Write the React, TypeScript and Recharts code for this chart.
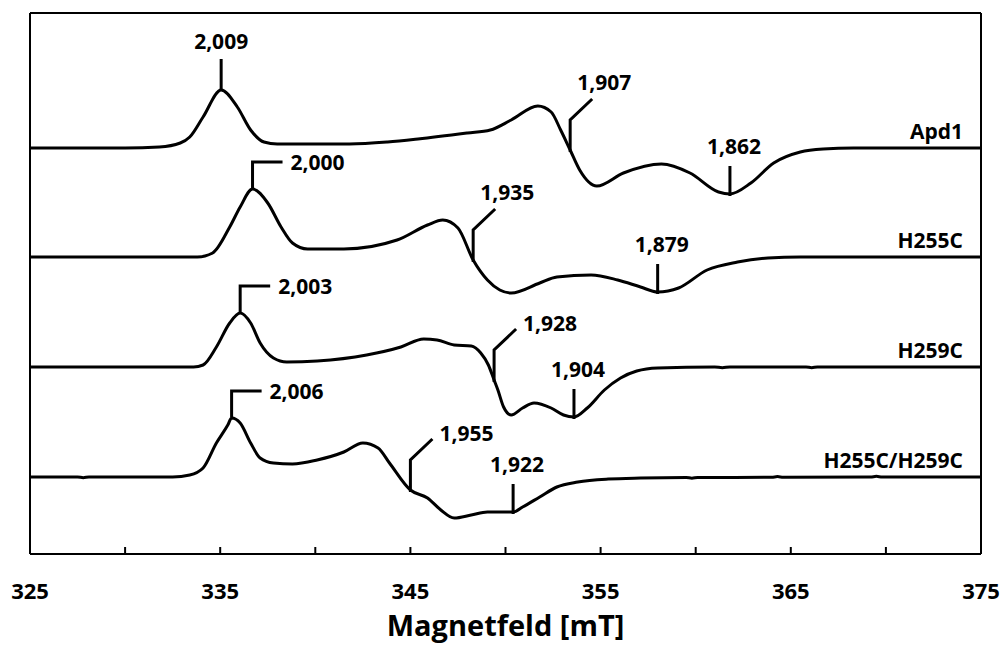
import React from 'react';
import { LineChart, Line, XAxis, YAxis, ReferenceLine, ReferenceDot } from 'recharts';

const FONT = '"Open Sans", "Liberation Sans", sans-serif';

// EPR spectra: field in mT, signal (arbitrary units)
const apd1Field = [325, 330, 331.8, 332.9, 333.4, 334.1, 335.05, 335.9, 336.6, 337.3, 338, 340, 341.8, 343.8, 345.4, 348, 349.2, 350.3, 351.7, 352.4, 352.9, 353.4, 353.9, 354.8, 356.2, 358.2, 359.7, 361.2, 361.8, 362.9, 364.1, 365.5, 366.7, 368.3, 375];
const apd1Signal = [0, 0, 1, 5, 11, 31, 58, 41, 18, 6, 4, 4, 4, 6, 9, 15, 18, 28, 42, 36, 18, -2, -22, -38, -25, -16, -25, -44, -46, -35, -15, -4, -1, 0, 0];

const h255cField = [325, 333.8, 334.6, 335.5, 336.05, 336.7, 337.5, 338.2, 338.8, 339.6, 341.5, 344.3, 345.9, 346.7, 347.5, 348.3, 349.05, 349.7, 350.3, 351.8, 352.7, 354.5, 355.9, 357.1, 358, 359.1, 360.6, 362.2, 363.8, 365.5, 375];
const h255cSignal = [0, 0, 4, 30, 50, 68, 54, 30, 14, 8, 8, 17, 32, 37, 29, -3, -23, -33, -36, -26, -20, -18, -23, -30, -35, -31, -13, -5, -1, 0, 0];

const h259cField = [325, 333.6, 334.1, 334.8, 335.5, 336.05, 336.6, 337.1, 337.8, 338.5, 340.1, 342.7, 344.5, 345.7, 346.4, 347.3, 348.2, 348.7, 349.1, 349.4, 349.6, 349.9, 350.3, 350.9, 351.5, 352.4, 353.05, 353.6, 354.3, 355.2, 356.05, 356.9, 358, 361, 361.4, 361.8, 365.8, 366.1, 366.4, 375];
const h259cSignal = [0, 0, 2, 20, 44, 54, 44, 24, 9, 5, 6, 12, 20, 28, 27, 22, 21, 14, 2, -13, -23, -40, -48, -41, -36, -41, -48, -50, -41, -23, -11, -4, -1, 0, -0.7, 0, 0, -0.7, 0, 0];

const doubleField = [325, 327.5, 327.8, 328.1, 332.5, 333.4, 334.1, 334.8, 335.4, 335.6, 336.05, 336.6, 337.1, 337.8, 338.8, 340.1, 341.5, 342.5, 343.3, 343.9, 345, 345.9, 346.6, 347.3, 348.2, 349.05, 349.7, 350.4, 350.9, 351.8, 352.7, 353.8, 355.4, 357.1, 359.5, 359.8, 360.1, 364, 364.3, 364.6, 369.2, 369.5, 369.8, 375];
const doubleSignal = [0, 0, -0.7, 0, 0, 2, 9, 34, 52, 59, 54, 34, 19, 14, 13, 17, 25, 34, 29, 14, -13, -21, -33, -41, -38, -35, -35, -35, -30, -20, -10, -5, -2, -1, -0.5, -1.2, -0.5, -0.3, 0.4, -0.2, 0, 0.7, 0, 0];

const seriesNames = ['Apd1', 'H255C', 'H259C', 'H255C/H259C'];
const seriesOffsets = [406, 297, 187, 77];
const fields = [apd1Field, h255cField, h259cField, doubleField];
const signals = [apd1Signal, h255cSignal, h259cSignal, doubleSignal];

const xTicks = [325, 330, 335, 340, 345, 350, 355, 360, 365, 370, 375];
const xLabelTicks = [325, 335, 345, 355, 365, 375];

// g-value markers
const gLabels = ['2,009', '1,907', '1,862', '2,000', '1,935', '1,879', '2,003', '1,928', '1,904', '2,006', '1,955', '1,922'];
const gField = [335.05, 353.4, 361.8, 336.7, 348.3, 358, 336.05, 349.4, 353.6, 335.6, 345, 350.4];
const gSeries = [0, 0, 0, 1, 1, 1, 2, 2, 2, 3, 3, 3];
const gKind = ['top', 'diagUp', 'min', 'bracket', 'diagUp', 'min', 'bracket', 'diagRight', 'min', 'bracket', 'diagRight', 'min'];

const spectra = seriesNames.map((name, i) => ({
  name,
  data: fields[i].map((B, j) => ({ B, v: signals[i][j] + seriesOffsets[i] })),
}));

const markers = gLabels.map((g, k) => {
  const s = gSeries[k];
  const j = fields[s].indexOf(gField[k]);
  return { g, B: gField[k], v: signals[s][j] + seriesOffsets[s], kind: gKind[k] };
});

const textStyle = { fontFamily: FONT, fontWeight: 700, fontSize: 21, fill: '#000' };

const markerShape = (kind: string, label: string) => (p: any) => {
  const x = p.cx;
  const y = p.cy;
  let d = '';
  let tx = x;
  let ty = y;
  let anchor: 'start' | 'middle' = 'middle';
  if (kind === 'top') {
    d = `M${x},${y}L${x},${y - 31}`;
    ty = y - 49;
  } else if (kind === 'bracket') {
    d = `M${x},${y - 1}L${x},${y - 27}L${x + 30},${y - 27}`;
    tx = x + 38;
    ty = y - 27;
    anchor = 'start';
  } else if (kind === 'diagUp') {
    d = `M${x},${y + 2}L${x},${y - 30}L${x + 22},${y - 51}`;
    tx = x + 34;
    ty = y - 68;
  } else if (kind === 'diagRight') {
    d = `M${x},${y + 2}L${x},${y - 30}L${x + 22},${y - 51}`;
    tx = x + 29;
    ty = y - 57;
    anchor = 'start';
  } else {
    d = `M${x},${y + 2}L${x},${y - 28}`;
    tx = x + 4;
    ty = y - 48;
  }
  return (
    <g>
      <path d={d} stroke="#000" strokeWidth={3} fill="none" />
      <text x={tx} y={ty} textAnchor={anchor} dominantBaseline="central" style={textStyle}>
        {label}
      </text>
    </g>
  );
};

const nameShape = (label: string) => (p: any) => (
  <text x={p.cx - 18} y={p.cy - 17} textAnchor="end" dominantBaseline="central" style={textStyle}>
    {label}
  </text>
);

const renderTick = (p: any) => {
  const v = p.payload.value;
  return (
    <g>
      <line x1={p.x} y1={p.y} x2={p.x} y2={p.y - 7} stroke="#000" strokeWidth={2} />
      {xLabelTicks.includes(v) && (
        <text x={p.x} y={p.y + 36} textAnchor="middle" dominantBaseline="central" style={{ ...textStyle, fontSize: 22 }}>
          {v}
        </text>
      )}
    </g>
  );
};

const App: React.FC = () => {
  return (
    <div style={{ position: 'absolute', left: 0, top: 0, width: 1001, height: 645, background: '#fff' }}>
      <LineChart width={1001} height={645} margin={{ top: 13, right: 20, left: 30, bottom: 0 }}>
        <XAxis
          type="number"
          dataKey="B"
          domain={[325, 375]}
          ticks={xTicks}
          interval={0}
          height={91}
          tickSize={0}
          tickMargin={0}
          tickLine={false}
          axisLine={{ stroke: '#000', strokeWidth: 2 }}
          tick={renderTick}
          allowDataOverflow
          label={{
            value: 'Magnetfeld [mT]',
            position: 'insideBottom',
            offset: 9,
            style: { fontFamily: FONT, fontWeight: 700, fontSize: 29, fill: '#000' },
          }}
        />
        <YAxis type="number" hide width={0} domain={[0, 541]} allowDataOverflow />
        <ReferenceLine x={325} stroke="#000" strokeWidth={2} />
        <ReferenceLine x={375} stroke="#000" strokeWidth={2} />
        <ReferenceLine y={541} stroke="#000" strokeWidth={2} />
        {spectra.map((s) => (
          <Line
            key={s.name}
            data={s.data}
            dataKey="v"
            type="monotone"
            stroke="#000"
            strokeWidth={3}
            dot={false}
            activeDot={false}
            isAnimationActive={false}
          />
        ))}
        {markers.map((m) => (
          <ReferenceDot key={m.g} x={m.B} y={m.v} r={3} shape={markerShape(m.kind, m.g)} />
        ))}
        {seriesNames.map((name, i) => (
          <ReferenceDot key={name} x={375} y={seriesOffsets[i]} r={3} shape={nameShape(name)} />
        ))}
      </LineChart>
    </div>
  );
};

export default App;
